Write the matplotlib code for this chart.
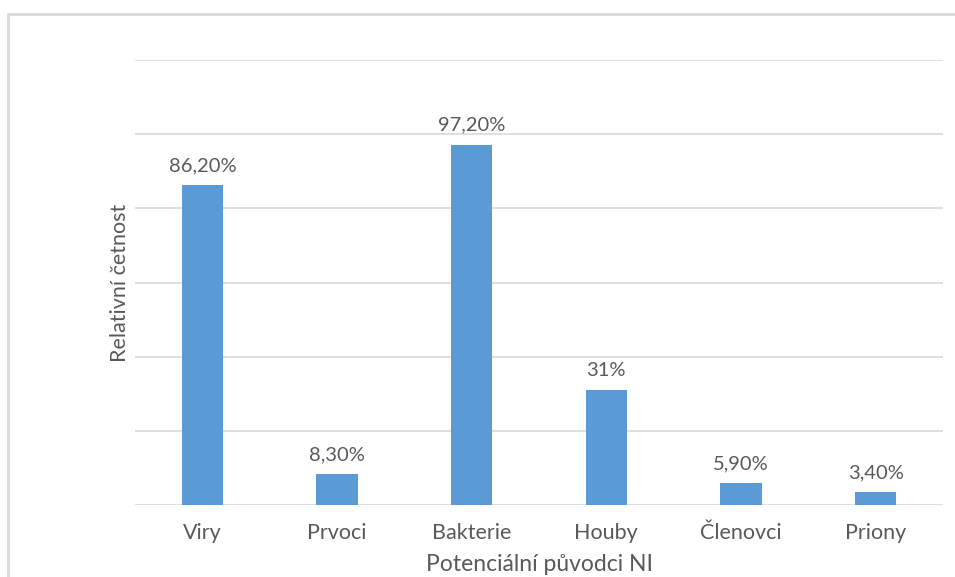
import matplotlib.pyplot as plt
from matplotlib.patches import Rectangle

categories = ["Viry", "Prvoci", "Bakterie", "Houby", "Členovci", "Priony"]
values = [86.2, 8.3, 97.2, 31.0, 5.9, 3.4]
value_labels = ["86,20%", "8,30%", "97,20%", "31%", "5,90%", "3,40%"]

plt.rcParams["font.family"] = ["Lato", "DejaVu Sans"]
text_color = "#595959"
grid_color = "#d9d9d9"

fig = plt.figure(figsize=(9.55, 5.77), dpi=100)
W, H = 955, 577
ax = fig.add_axes([135 / W, 1 - 505 / H, (943 - 135) / W, (505 - 60) / H])

x = range(len(categories))
ax.bar(x, values, width=0.305, color="#5b9bd5", zorder=3)
for xi, v, lab in zip(x, values, value_labels):
    ax.text(xi, v + 3.0, lab, ha="center", va="bottom", fontsize=14.5, color=text_color)

ax.set_xlim(-0.5, len(categories) - 0.5)
ax.set_ylim(0, 120)
ax.set_yticks(range(0, 121, 20))
ax.set_yticklabels([])
ax.tick_params(axis="y", length=0)
ax.tick_params(axis="x", length=0, pad=13, labelsize=15.5, labelcolor=text_color)
ax.set_xticks(list(x))
ax.set_xticklabels(categories)
ax.grid(axis="y", color=grid_color, linewidth=1.2, zorder=0)
for s in ax.spines.values():
    s.set_visible(False)

ax.set_ylabel("Relativní četnost", fontsize=15.5, color=text_color, labelpad=0)
ax.set_xlabel("Potenciální původci NI", fontsize=16.5, color=text_color, labelpad=8)

# outer chart border
fig.patches.append(Rectangle((8 / W, -0.1), 1.1, 1 - 14 / H + 0.1, transform=fig.transFigure,
                             fill=False, edgecolor=grid_color, linewidth=2))

fig.savefig("out.png", dpi=100)
